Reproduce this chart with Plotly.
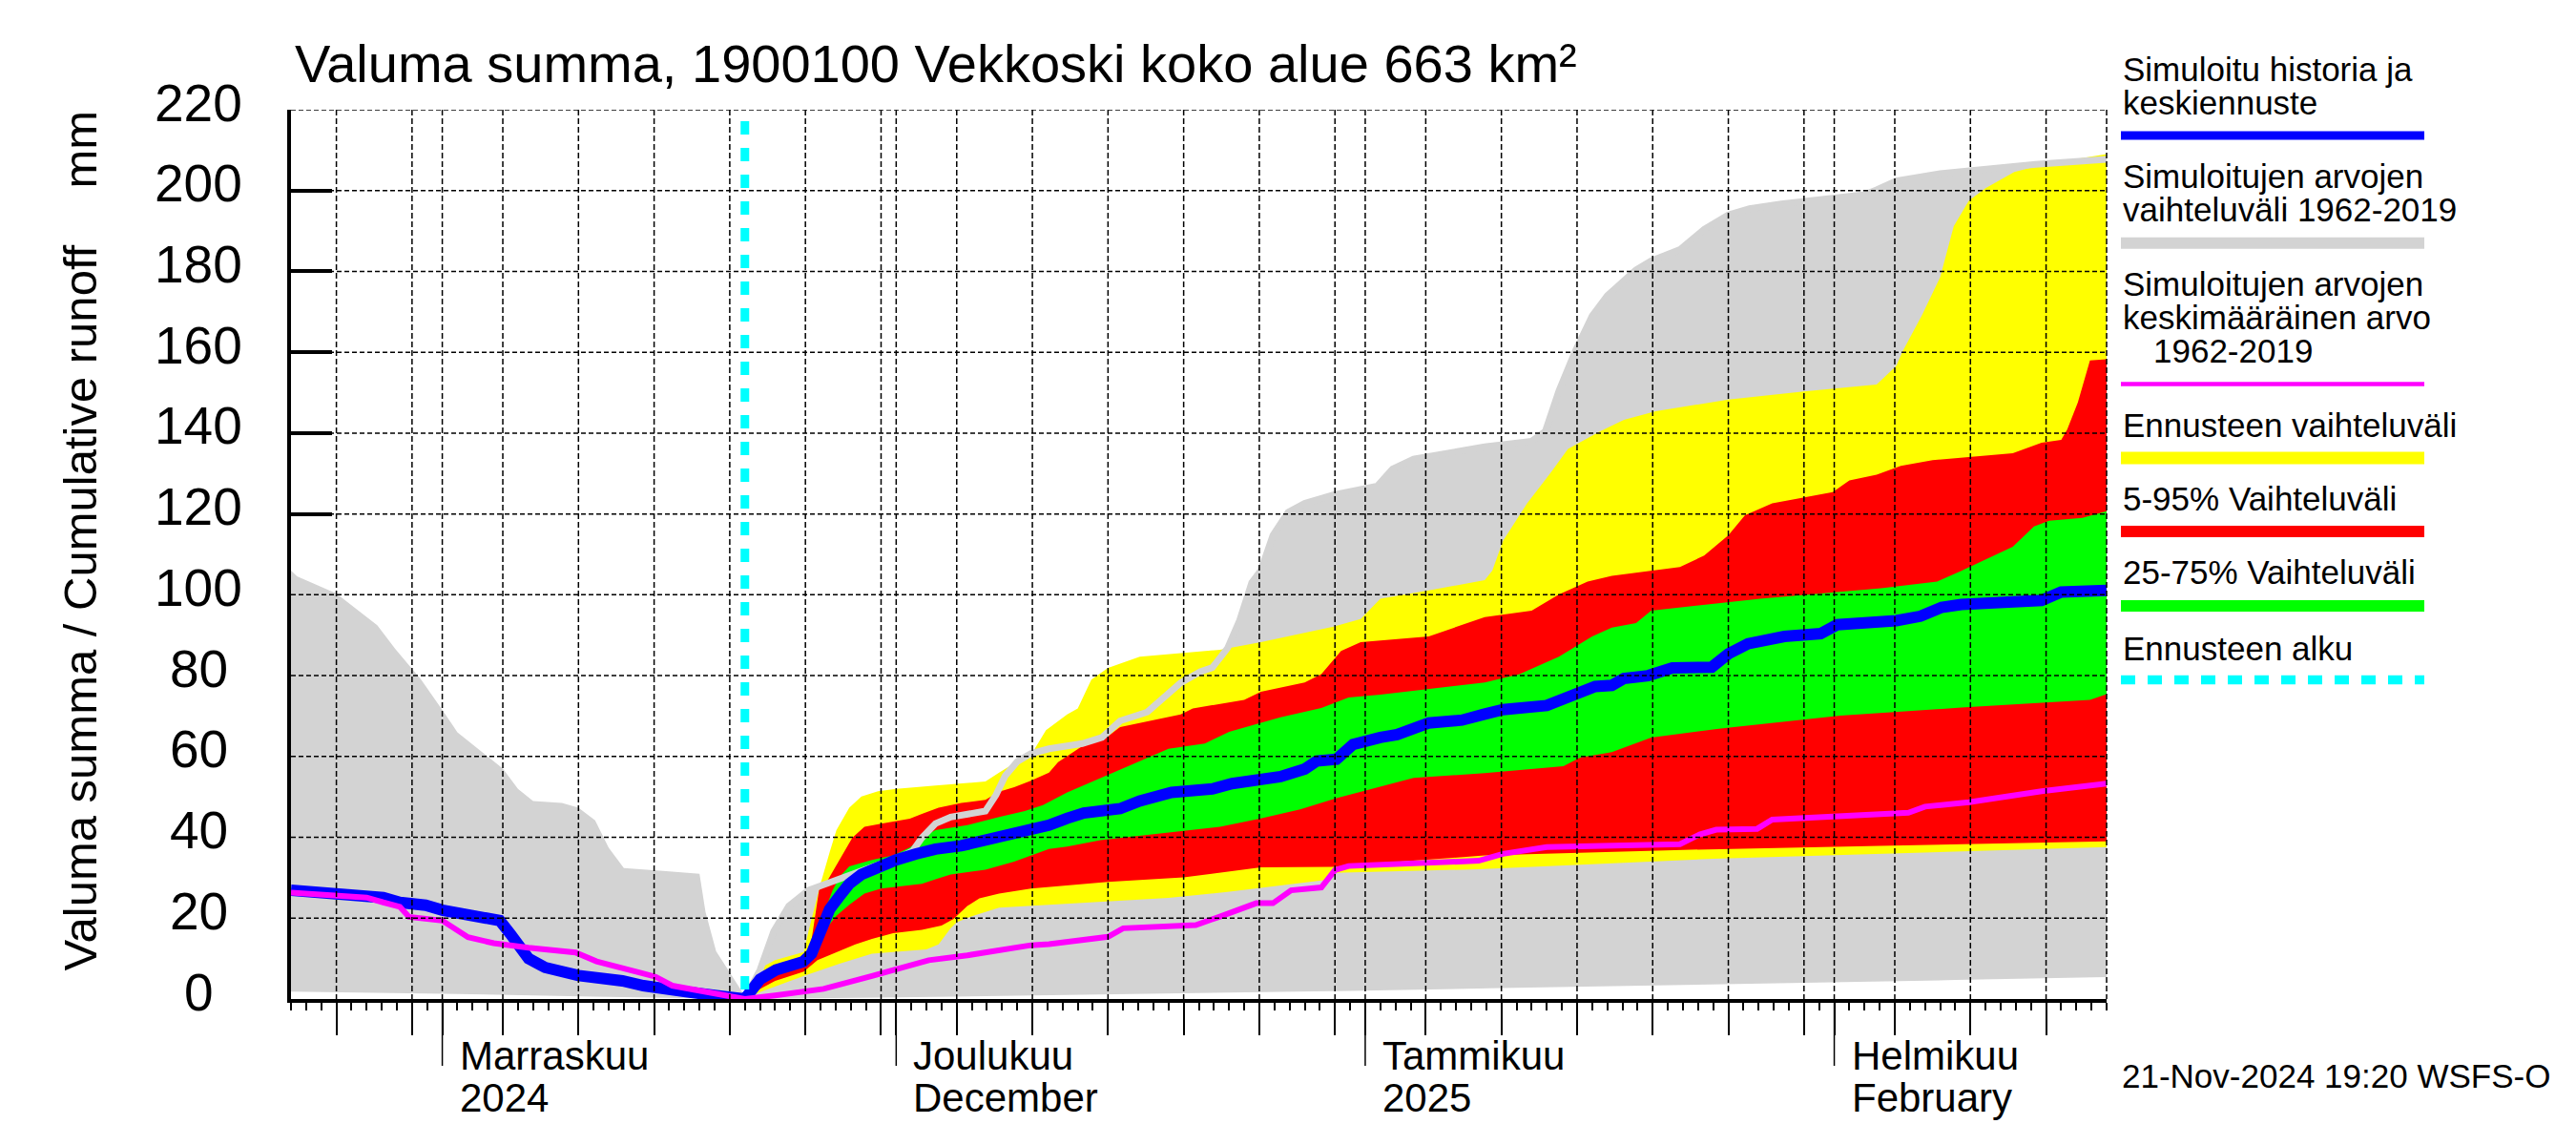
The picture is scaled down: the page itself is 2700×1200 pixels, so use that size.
import datetime as dt
import plotly.graph_objects as go

# ---------------- data (day offsets from 22 Oct 2024, value in mm) ----------------
START = dt.datetime(2024, 10, 22)
X_END_DAY = 120
FORECAST_DAY = 30

GREY_MAX = [(0, 106), (0.4, 104.6), (3, 100.3), (5.7, 92.5), (6.9, 86.6), (8.6, 79), (10, 71.5), (11, 66),
            (14, 57), (15, 52), (16, 49), (17.9, 48.5), (19, 47.3), (20.1, 44.2), (21, 37.4), (22, 32.4),
            (24.6, 31.7), (27, 31), (27.4, 21.5), (28.1, 11.8), (29.8, 1.9), (30, 0),
            (31, 7.2), (31.9, 16.7), (32.9, 23), (34.2, 26.9), (35.4, 28.5), (36.9, 30.8), (38.8, 33.2),
            (40.5, 35.5), (41.1, 36.7), (41.7, 39.9), (42.6, 43.4), (43.6, 45), (45.9, 46.5), (46.6, 50.5),
            (47.2, 55.2), (48, 58.7), (48.9, 60.7), (50.1, 61.9), (52.3, 63.2), (53.6, 64.7), (54.8, 68.8),
            (56.6, 71), (58.8, 78.2), (60.1, 81), (60.9, 82), (61.9, 86.8), (62.7, 93.7), (63.5, 103),
            (64.1, 106), (64.9, 114.7), (65.9, 120.4), (67, 122.6), (68.9, 124.7), (71.8, 126.9),
            (72.8, 131.1), (74.2, 133.6), (78.9, 136.6), (82, 138), (82.9, 140.4), (83.8, 150.4),
            (84.9, 160.4), (86, 169), (87, 174), (88.9, 180.4), (89.9, 182.6), (91.8, 185.4), (93.4, 190.4),
            (95, 194), (96.4, 195.5), (98.5, 196.7), (101.9, 198.1), (104, 199), (104.8, 200.2),
            (106.1, 202.4), (109, 204.2), (111.1, 205), (115.3, 206.5), (120, 207.7)]

GREY_MIN = [(0, 1.8), (10, 1.3), (20, 0.6), (28, 0.2), (30, 0), (40, 0.4), (50, 0.9), (60, 1.5), (70, 2),
            (80, 2.7), (90, 3.3), (100, 4), (110, 4.7), (120, 5.4)]

FC_MAX = [(30, 0), (31.2, 8), (32, 9.6), (33.9, 11.6), (34.2, 16.7), (35, 28.5), (35.6, 36.3), (36.05, 41.8),
          (36.9, 47.3), (37.7, 50.1), (38.8, 51.4), (40, 52), (42.6, 52.8), (45.9, 53.8), (46.8, 56),
          (47.8, 58.3), (48.9, 60.3), (49.9, 66.5), (51.3, 70.4), (52, 71.9), (52.9, 79), (54, 81.9),
          (56.1, 84.7), (61.4, 86.4), (64.1, 88.3), (68.9, 92.1), (70.7, 94), (72, 99), (75.2, 101.1),
          (78.9, 103.6), (79.4, 106), (80.1, 113.3), (81.7, 122.6), (83.3, 130.4), (84.4, 136.1),
          (86.5, 140.4), (88.1, 143.3), (90.2, 145.4), (95, 148.3), (100, 150.3), (104.8, 152),
          (106.1, 156.6), (106.5, 160.1), (107.8, 169.2), (109, 178.6), (109.9, 191.2), (110.9, 197.5),
          (112, 200.6), (113.9, 204.6), (116, 206.6), (120, 209)]

FC_MIN = [(30, 0), (31, 1.7), (33.9, 5.7), (36.3, 8.8), (38.4, 11.2), (40.5, 11.8), (42, 12.3), (42.8, 13.5),
          (43.6, 17.5), (44, 19), (45.1, 20.6), (46.8, 22.6), (50.1, 23.3), (54, 24), (58, 25), (61.9, 26.5),
          (64.2, 27.5), (68.5, 29.5), (69, 31.2), (75.3, 31.8), (78.5, 32.1), (94, 34.7), (105, 35.9),
          (120, 37.6)]

P95 = [(30, 0), (31, 5), (32, 7.5), (33.9, 9.5), (34.3, 12), (34.9, 26.9), (35.4, 28.9), (36.3, 34.7),
       (37.1, 39.9), (37.9, 42.6), (39, 43.4), (40.9, 44.6), (41.7, 45.8), (42.8, 47.3), (44.3, 48.5),
       (45.9, 49.3), (46.8, 51.3), (47.8, 52.4), (48.9, 54), (50.1, 56), (50.7, 58.6), (52.2, 62.3),
       (54, 65), (54.8, 67.3), (58.8, 70.4), (59.6, 71.9), (63, 74), (64.1, 76), (67, 78.3), (68.1, 80.4),
       (69.4, 86.1), (70.7, 88.3), (75.2, 89.7), (78.9, 94.5), (82, 96.1), (83.8, 100.1), (85.7, 103.3),
       (87.3, 104.7), (91.8, 106.9), (93.4, 109.7), (95, 114.7), (96.1, 119.7), (97.9, 122.6),
       (101.9, 125.4), (103, 128.3), (104.8, 129.7), (106.4, 131.9), (108.5, 133.3), (113.8, 135),
       (115.7, 137.6), (117, 138.3), (117.4, 140.9), (118.1, 147.6), (118.9, 158), (120, 158.3)]

P75 = [(30, 0), (31, 5.2), (32, 7.6), (33, 8.6), (34, 9.4), (34.5, 12), (35, 19), (35.8, 26.9), (36.3, 30.4),
       (36.9, 32.8), (38.4, 34.4), (39.8, 35.5), (40.9, 37.5), (41.7, 39.9), (42.6, 41.8), (44.7, 43),
       (46.8, 45), (48.5, 46.5), (49.7, 48), (51.3, 51.1), (53.5, 54.7), (55.8, 58.3), (58, 61.9),
       (60.4, 63.2), (62, 66.1), (65.4, 69.7), (68.1, 72), (69.9, 74.6), (72, 75.3), (78.9, 78.3),
       (81.2, 80.4), (83.8, 84.7), (86, 89.7), (87.3, 91.9), (88.9, 93), (89.9, 96.1), (97.1, 99),
       (105.1, 101.6), (108.8, 103.3), (110.4, 105.9), (113.8, 111.9), (115.2, 116.9), (116.2, 118.3),
       (118.4, 119), (120, 120.7)]

P25 = [(30, 0), (31, 4.6), (32, 6.8), (33, 7.8), (34, 8.4), (34.8, 11.2), (35.4, 17.5), (36.05, 20.6),
       (36.9, 23.3), (37.9, 26.1), (39, 27.3), (40, 27.8), (41.7, 28.5), (42.6, 29.6), (43.6, 30.8),
       (45.9, 32), (47.8, 34), (50.1, 37.1), (51.3, 37.7), (53.5, 39.3), (56.1, 40.4), (61.4, 42.6),
       (64.1, 44.7), (66.7, 46.9), (69.1, 49.7), (72, 52.6), (74.2, 54.7), (78.9, 55.9), (84.1, 57.6),
       (85.2, 59.7), (87.3, 61.1), (89.9, 64.7), (94.5, 66.9), (102.4, 70.1), (110.4, 72.1), (118.9, 74),
       (120, 75.4)]

P05 = [(30, 0), (31, 2.5), (32, 4.5), (33.9, 6.8), (34.8, 9.6), (35.8, 11.2), (37.3, 13.5), (38.4, 14.9),
       (39.8, 16.3), (41.7, 17.1), (43, 18.2), (43.8, 19.8), (44.7, 23), (45.5, 24.9), (46.8, 26.1),
       (48.9, 27.3), (50.1, 27.7), (54, 29), (59, 30.1), (62.5, 31.9), (64.1, 32.6), (68.9, 32.7),
       (70.7, 33.3), (78.9, 35.5), (92, 36.9), (105, 37.9), (120, 39)]

MEDIAN = [(0, 26.9), (3, 26.3), (5, 25.8), (6.1, 25.1), (7.2, 23.9), (8.9, 23.2), (10, 22), (11.7, 20.9),
          (13.8, 19.4), (14.5, 16.1), (15.7, 10), (16.8, 7.8), (19, 5.8), (21.9, 4.5), (23.3, 3.3),
          (26.1, 1.8), (28.9, 0.7), (30, 0),
          (31, 4.9), (32.05, 7.2), (33.84, 9.2), (34.4, 11.2), (35, 16.7), (35.6, 22.2), (36.3, 25.7),
          (36.9, 28.5), (37.7, 30.8), (38.8, 32.8), (40, 34.4), (41.3, 35.9), (42.6, 37.1), (44.3, 37.9),
          (45.7, 39.1), (47.8, 40.6), (49.3, 41.8), (50.1, 43), (51.3, 44.7), (52.4, 46), (54.8, 47.1),
          (56.1, 49), (58.2, 51.1), (60.9, 52), (62.2, 53.3), (64.1, 54), (65.4, 55), (67, 56.9),
          (67.8, 58.9), (69.1, 59.3), (70.2, 63), (72, 64.7), (73.1, 65.4), (75.2, 68.3), (77.4, 69),
          (78.9, 70.5), (80.1, 71.6), (83, 72.6), (84.9, 75), (86.2, 77.3), (87.3, 77.6), (88.1, 79.3),
          (89.7, 80), (91.3, 81.9), (93.9, 82.1), (95, 85.4), (96.3, 87.9), (98.7, 89.7), (101.1, 90.4),
          (102.2, 92.6), (106.1, 93.6), (107.7, 94.7), (109.1, 96.9), (110.4, 97.6), (115.7, 98.6),
          (117, 100.7), (120, 101.1)]

MEAN = [(0, 26.3), (5, 25.1), (6.1, 23.9), (7.2, 22.8), (7.8, 20.3), (10, 19.4), (11.7, 15.3), (13.4, 13.8),
        (15.7, 12.7), (18.8, 11.5), (20.2, 9.3), (21.9, 7.8), (24.1, 5.5), (25.2, 3.3), (27.5, 1.8),
        (30, 0), (32, 0.9), (35.2, 2.5), (38.4, 5.7), (40.5, 8), (42.15, 9.6), (44.7, 10.8), (48.9, 13.3),
        (50.1, 13.6), (54, 15.4), (55, 17.5), (59.8, 18.3), (61.4, 20.4), (63.8, 23.7), (64.9, 23.7),
        (66.1, 26.9), (68.1, 27.6), (69, 31.9), (69.9, 32.9), (75.3, 33.8), (78.5, 34.2), (80.1, 35.9),
        (83, 37.6), (91.8, 38.3), (93.1, 40.7), (94.2, 41.9), (96.9, 42.1), (97.9, 44.4), (106.9, 46.1),
        (108, 47.6), (110.9, 48.7), (115.7, 51.4), (120, 53.3)]

GRID_DATES = ["2024-10-25", "2024-10-30", "2024-11-01", "2024-11-05", "2024-11-10", "2024-11-15",
              "2024-11-20", "2024-11-25", "2024-11-30", "2024-12-01", "2024-12-05", "2024-12-10",
              "2024-12-15", "2024-12-20", "2024-12-25", "2024-12-30", "2025-01-01", "2025-01-05",
              "2025-01-10", "2025-01-15", "2025-01-20", "2025-01-25", "2025-01-30", "2025-02-01",
              "2025-02-05", "2025-02-10", "2025-02-15"]
MONTH_STARTS = ["2024-11-01", "2024-12-01", "2025-01-01", "2025-02-01"]
MONTH_LABELS = [("Marraskuu", "2024"), ("Joulukuu", "December"), ("Tammikuu", "2025"), ("Helmikuu", "February")]
Y_TICKS = list(range(0, 221, 20))

TITLE = "Valuma summa, 1900100 Vekkoski koko alue 663 km²"
Y_TITLE = "Valuma summa / Cumulative runoff"
Y_UNIT = "mm"
STAMP = "21-Nov-2024 19:20 WSFS-O"

# ---------------- layout helpers (screen pixel positions; page body has an 8px margin) ----------------
FONT = "Liberation Sans, Arial, Helvetica, sans-serif"
OFF = 8
W, H = 2700 - 2 * OFF, 1200 - 2 * OFF
SL, SR, ST, SB = 305, 2208, 115, 1047          # plot box on screen
L, R, T, B = SL - OFF, SR - OFF, ST - OFF, SB - OFF
PW, PH = R - L, B - T


def xs(series):
    return [START + dt.timedelta(days=d) for d, _ in series]


def ys(series):
    return [v for _, v in series]


def px_x(px):
    return (px - SL) / PW


def px_y(py):
    return (SB - py) / PH


def band(lower, upper, color):
    return go.Scatter(x=xs(lower) + xs(upper)[::-1], y=ys(lower) + ys(upper)[::-1],
                      fill="toself", fillcolor=color, mode="lines", line=dict(width=0),
                      hoverinfo="skip", showlegend=False)


GREY = "#d3d3d3"
fig = go.Figure()
fig.add_trace(band(GREY_MIN, GREY_MAX, GREY))
fig.add_trace(band(FC_MIN, FC_MAX, "#ffff00"))
fig.add_trace(band(P05, P95, "#ff0000"))
fig.add_trace(band(P25, P75, "#00ff00"))
grey_post = [p for p in GREY_MAX if p[0] >= FORECAST_DAY]
fig.add_trace(go.Scatter(x=xs(grey_post), y=ys(grey_post), mode="lines",
                         line=dict(color=GREY, width=7), showlegend=False))
fig.add_trace(go.Scatter(x=xs(MEDIAN), y=ys(MEDIAN), mode="lines",
                         line=dict(color="#0000ff", width=12), showlegend=False))
fig.add_trace(go.Scatter(x=xs(MEAN), y=ys(MEAN), mode="lines",
                         line=dict(color="#ff00ff", width=6), showlegend=False))

shapes = []
for v in Y_TICKS[1:]:
    shapes.append(dict(type="line", xref="paper", yref="y", x0=0, x1=1, y0=v, y1=v, layer="above",
                       line=dict(color="black", width=1.5, dash="5px,3px")))
for d in GRID_DATES:
    shapes.append(dict(type="line", xref="x", yref="paper", x0=d, x1=d, y0=1, y1=0, layer="above",
                       line=dict(color="black", width=1.5, dash="6px,3px")))
shapes.append(dict(type="line", xref="paper", yref="paper", x0=1, x1=1, y0=1, y1=0, layer="above",
                   line=dict(color="black", width=1.5, dash="6px,3px")))
for d in MONTH_STARTS:
    shapes.append(dict(type="line", xref="x", yref="paper", x0=d, x1=d, y0=0, y1=-70 / PH,
                       line=dict(color="black", width=1.5)))
fc_date = START + dt.timedelta(days=FORECAST_DAY)
shapes.append(dict(type="line", xref="x", yref="paper", x0=fc_date, x1=fc_date, y0=px_y(127), y1=0,
                   layer="above", line=dict(color="#00ffff", width=9, dash="14px,14px")))

# legend bars
LEG_X0, LEG_X1 = px_x(2223), px_x(2541)
for cy, th, col, dash in [(142, 9, "#0000ff", None), (254.7, 12, GREY, None), (402.5, 4.5, "#ff00ff", None),
                          (480, 13, "#ffff00", None), (557, 12, "#ff0000", None), (635, 12, "#00ff00", None),
                          (712.5, 9.5, "#00ffff", "15px,13px")]:
    ln = dict(color=col, width=th)
    if dash:
        ln["dash"] = dash
    shapes.append(dict(type="line", xref="paper", yref="paper", x0=LEG_X0, x1=LEG_X1,
                       y0=px_y(cy), y1=px_y(cy), line=ln))

ann = []


def text(t, x_px, base_px, size, anchor="left"):
    ann.append(dict(text=t, xref="paper", yref="paper", x=px_x(x_px), y=px_y(base_px - 0.35 * size),
                    xanchor=anchor, yanchor="middle", showarrow=False,
                    font=dict(family=FONT, size=size, color="black")))


text(TITLE, 307, 86, 56)
for t, xp, base in [("Simuloitu historia ja", 2223, 85), ("keskiennuste", 2223, 120),
                    ("Simuloitujen arvojen", 2223, 196.4), ("vaihteluväli 1962-2019", 2223, 232),
                    ("Simuloitujen arvojen", 2223, 309.4), ("keskimääräinen arvo", 2223, 344.6),
                    ("1962-2019", 2255, 379.5), ("Ennusteen vaihteluväli", 2223, 457.6),
                    ("5-95% Vaihteluväli", 2223, 534.8), ("25-75% Vaihteluväli", 2223, 611.6),
                    ("Ennusteen alku", 2223, 691.4)]:
    text(t, xp, base, 35)
text(STAMP, 2222, 1139.5, 35)

for v in Y_TICKS:
    ann.append(dict(text=str(v), xref="paper", yref="y", x=px_x(208), y=v, yshift=7.5,
                    xanchor="center", yanchor="middle", showarrow=False,
                    font=dict(family=FONT, size=55, color="black")))

for t, cy in [(Y_TITLE, 637.5), (Y_UNIT, 156.5)]:
    ann.append(dict(text=t, xref="paper", yref="paper", x=px_x(83), y=px_y(cy), textangle=-90,
                    xanchor="center", yanchor="middle", showarrow=False,
                    font=dict(family=FONT, size=49, color="black")))

for d, (l1, l2) in zip(MONTH_STARTS, MONTH_LABELS):
    for t, base in [(l1, 1121), (l2, 1165)]:
        ann.append(dict(text=t, xref="x", yref="paper", x=d, xshift=16, y=px_y(base - 0.35 * 42),
                        xanchor="left", yanchor="middle", showarrow=False,
                        font=dict(family=FONT, size=42, color="black")))

fig.update_layout(
    width=W, height=H, margin=dict(l=L, r=W - R, t=T, b=H - B, autoexpand=False),
    paper_bgcolor="white", plot_bgcolor="white", showlegend=False,
    shapes=shapes, annotations=ann,
    xaxis=dict(type="date", range=[START, START + dt.timedelta(days=X_END_DAY)],
               showgrid=False, zeroline=False, showline=True, linecolor="black", linewidth=4,
               layer="below traces", tickmode="array", tickvals=GRID_DATES, ticks="outside",
               ticklen=34, tickwidth=1.5, tickcolor="black", showticklabels=False,
               minor=dict(dtick=86400000, tick0="2024-10-22", ticks="outside", ticklen=8,
                          tickwidth=1.5, tickcolor="black", showgrid=False)),
    yaxis=dict(range=[0, 220], showgrid=False, zeroline=False, showline=True, linecolor="black",
               linewidth=4, layer="below traces", tickmode="array", tickvals=Y_TICKS, ticks="inside",
               ticklen=43, tickwidth=4, tickcolor="black", showticklabels=False),
)

fig.write_html("out.html")
